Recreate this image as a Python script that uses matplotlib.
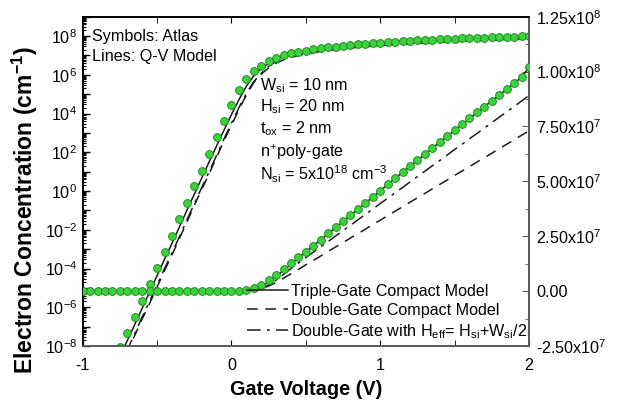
import math

import matplotlib
matplotlib.use("Agg")
import matplotlib.pyplot as plt
from matplotlib.ticker import FixedLocator, LogLocator, NullFormatter, FuncFormatter, MultipleLocator

plt.rcParams["font.family"] = ["Liberation Sans", "DejaVu Sans"]
plt.rcParams["mathtext.fontset"] = "custom"
plt.rcParams["mathtext.rm"] = "Liberation Sans"
plt.rcParams["mathtext.it"] = "Liberation Sans:italic"
plt.rcParams["mathtext.bf"] = "Liberation Sans:bold"

# gate voltage grid (V)
vg = [-1.00, -0.95, -0.90, -0.85, -0.80, -0.75, -0.70, -0.65, -0.60, -0.55,
      -0.50, -0.45, -0.40, -0.35, -0.30, -0.25, -0.20, -0.15, -0.10, -0.05,
      0.00, 0.05, 0.10, 0.15, 0.20, 0.25, 0.30, 0.35, 0.40, 0.45,
      0.50, 0.55, 0.60, 0.65, 0.70, 0.75, 0.80, 0.85, 0.90, 0.95,
      1.00, 1.05, 1.10, 1.15, 1.20, 1.25, 1.30, 1.35, 1.40, 1.45,
      1.50, 1.55, 1.60, 1.65, 1.70, 1.75, 1.80, 1.85, 1.90, 1.95, 2.00]

# Atlas simulation, electron concentration per unit length (cm^-1)
n_atlas = [6.3e-13, 4.0e-12, 2.8e-11, 2.0e-10, 1.3e-9, 9.1e-9, 4.9e-8, 3.2e-7, 2.2e-6, 1.55e-5,
           1.07e-4, 7.1e-4, 4.9e-3, 3.5e-2, 0.25, 1.8, 11.2, 79.0, 590.0, 4.3e3,
           2.7e4, 1.6e5, 6.3e5, 1.5e6, 2.9e6, 5.0e6, 7.4e6, 1.0e7, 1.27e7, 1.54e7,
           1.80e7, 2.07e7, 2.35e7, 2.63e7, 2.90e7, 3.18e7, 3.46e7, 3.74e7, 4.02e7, 4.30e7,
           4.58e7, 4.86e7, 5.14e7, 5.42e7, 5.70e7, 5.97e7, 6.24e7, 6.52e7, 6.79e7, 7.06e7,
           7.33e7, 7.60e7, 7.87e7, 8.14e7, 8.41e7, 8.68e7, 8.94e7, 9.21e7, 9.48e7, 9.75e7, 1.02e8]

# triple-gate compact Q-V model
n_tg = [2.0e-13, 1.4e-12, 1.0e-11, 6.3e-11, 4.5e-10, 3.2e-9, 1.9e-8, 1.3e-7, 8.9e-7, 6.3e-6,
        4.3e-5, 3.0e-4, 2.0e-3, 1.4e-2, 0.10, 0.68, 4.7, 32.0, 215.0, 1.4e3,
        8.9e3, 5.2e4, 2.6e5, 8.9e5, 2.1e6, 4.0e6, 6.6e6, 9.5e6, 1.24e7, 1.52e7,
        1.79e7, 2.06e7, 2.34e7, 2.62e7, 2.89e7, 3.17e7, 3.45e7, 3.73e7, 4.01e7, 4.29e7,
        4.57e7, 4.85e7, 5.13e7, 5.41e7, 5.69e7, 5.96e7, 6.23e7, 6.51e7, 6.78e7, 7.05e7,
        7.32e7, 7.59e7, 7.86e7, 8.13e7, 8.40e7, 8.67e7, 8.93e7, 9.20e7, 9.47e7, 9.74e7, 1.02e8]

# double-gate compact model
n_dg = [5.0e-14, 3.5e-13, 2.5e-12, 1.6e-11, 1.1e-10, 7.9e-10, 5.0e-9, 3.5e-8, 2.5e-7, 1.6e-6,
        1.1e-5, 7.9e-5, 5.0e-4, 3.5e-3, 2.5e-2, 0.18, 1.2, 7.9, 56.0, 400.0,
        2.5e3, 1.6e4, 9.0e4, 4.0e5, 1.1e6, 2.3e6, 4.0e6, 5.9e6, 7.9e6, 9.9e6,
        1.20e7, 1.40e7, 1.60e7, 1.81e7, 2.01e7, 2.21e7, 2.42e7, 2.62e7, 2.82e7, 3.03e7,
        3.23e7, 3.44e7, 3.64e7, 3.84e7, 4.05e7, 4.25e7, 4.45e7, 4.66e7, 4.86e7, 5.06e7,
        5.27e7, 5.47e7, 5.67e7, 5.88e7, 6.08e7, 6.28e7, 6.49e7, 6.69e7, 6.89e7, 7.10e7, 7.30e7]

# double-gate with effective height Heff = Hsi + Wsi/2
n_dgh = [6.3e-14, 4.4e-13, 3.2e-12, 2.0e-11, 1.4e-10, 1.0e-9, 6.3e-9, 4.4e-8, 3.2e-7, 2.0e-6,
         1.4e-5, 1.0e-4, 6.3e-4, 4.4e-3, 3.2e-2, 0.22, 1.5, 10.0, 70.0, 500.0,
         3.2e3, 2.0e4, 1.1e5, 4.5e5, 1.2e6, 2.7e6, 5.0e6, 7.6e6, 1.03e7, 1.28e7,
         1.53e7, 1.77e7, 2.02e7, 2.26e7, 2.51e7, 2.76e7, 3.00e7, 3.25e7, 3.49e7, 3.74e7,
         3.99e7, 4.23e7, 4.48e7, 4.72e7, 4.97e7, 5.22e7, 5.46e7, 5.71e7, 5.95e7, 6.20e7,
         6.45e7, 6.69e7, 6.94e7, 7.18e7, 7.43e7, 7.68e7, 7.92e7, 8.17e7, 8.41e7, 8.66e7, 8.91e7]

labels = ["Triple-Gate Compact Model",
          "Double-Gate Compact Model",
          r"Double-Gate with H$_{\rm eff}$= H$_{\rm si}$+W$_{\rm si}$/2"]

params = [r"W$_{\rm si}$ = 10 nm",
          r"H$_{\rm si}$ = 20 nm",
          r"t$_{\rm ox}$ = 2 nm",
          r"n$^{+}$poly-gate",
          r"N$_{\rm si}$ = 5x10$^{18}$ cm$^{-3}$"]

green = "#3dd13d"
green_edge = "#1f8f1f"
gray = "#5a5a5a"
fs = 11.6

fig = plt.figure(figsize=(6.29, 4.04), dpi=100)
ax = fig.add_axes([0.1315, 0.1436, 0.7095, 0.815])
ax2 = ax.twinx()

line_styles = [
    dict(ls="-", lw=1.1),
    dict(ls=(0, (7, 5)), lw=1.1),
    dict(ls=(0, (9, 4, 2, 4)), lw=1.1),
]

# log-scale view on the left axis, linear view on the right axis
for a in (ax, ax2):
    for n, st in zip([n_tg, n_dg, n_dgh], line_styles):
        a.plot(vg, n, color="#1a1a1a", zorder=2, **st)
    a.plot(vg, n_atlas, "o", ms=5.6, mfc=green, mec=green_edge, mew=0.7, zorder=3)

ax.set_yscale("log")
ax.set_ylim(1e-8, 1e9)
ax.set_xlim(-1, 2)
ax2.set_ylim(-2.5e7, 1.25e8)

ax.xaxis.set_major_locator(FixedLocator([-1, 0, 1, 2]))
ax.xaxis.set_minor_locator(MultipleLocator(0.5))
ax.set_xticklabels(["-1", "0", "1", "2"])

ax.yaxis.set_major_locator(FixedLocator([10.0 ** k for k in range(-8, 10)]))
ax.yaxis.set_minor_locator(LogLocator(base=10, subs=range(2, 10), numticks=40))
ax.yaxis.set_minor_formatter(NullFormatter())


def log_label(val, pos):
    k = int(round(math.log10(val)))
    if k % 2 or k > 8:
        return ""
    return r"10$^{%d}$" % k


ax.yaxis.set_major_formatter(FuncFormatter(log_label))

right_ticks = [-2.5e7, 0.0, 2.5e7, 5.0e7, 7.5e7, 1.0e8, 1.25e8]
right_labels = [r"-2.50x10$^{7}$", "0.00", r"2.50x10$^{7}$", r"5.00x10$^{7}$",
                r"7.50x10$^{7}$", r"1.00x10$^{8}$", r"1.25x10$^{8}$"]
ax2.yaxis.set_major_locator(FixedLocator(right_ticks))
ax2.yaxis.set_minor_locator(MultipleLocator(1.25e7))
ax2.set_yticklabels(right_labels)

ax.tick_params(axis="x", which="both", direction="in", top=True, labelsize=fs, pad=9, length=4)
ax2.tick_params(axis="x", which="both", direction="in", top=True, length=4)
ax.tick_params(axis="y", which="major", direction="in", length=5, width=1.0, labelsize=fs, pad=4)
ax.tick_params(axis="y", which="minor", direction="in", length=2.5, width=0.8)
ax2.tick_params(axis="y", which="major", direction="in", length=5, labelsize=fs, pad=5, color=gray)
ax2.tick_params(axis="y", which="minor", direction="in", length=3, color=gray)

for a in (ax, ax2):
    a.spines["left"].set_linewidth(1.3)
    a.spines["top"].set_linewidth(1.2)
    a.spines["right"].set_color(gray)
    a.spines["right"].set_linewidth(1.2)
    a.spines["bottom"].set_color(gray)
    a.spines["bottom"].set_linewidth(1.2)

ax.set_xlabel("Gate Voltage (V)", fontsize=14.3, fontweight="bold", labelpad=5)
ax.set_ylabel(r"Electron Concentration (cm$^{\mathbf{-1}}$)", fontsize=16.5,
              fontweight="bold")
ax.yaxis.set_label_coords(-0.095, 0.413)

ax.text(0.021, 0.927, "Symbols: Atlas", transform=ax.transAxes, fontsize=fs, va="baseline")
ax.text(0.021, 0.865, "Lines: Q-V Model", transform=ax.transAxes, fontsize=fs, va="baseline")
for txt, yb in zip(params, [0.777, 0.712, 0.647, 0.575, 0.504]):
    ax.text(0.398, yb, txt, transform=ax.transAxes, fontsize=fs, va="baseline")

handles = ax2.get_lines()[:3]
ax2.legend(handles, labels, loc="lower left", bbox_to_anchor=(0.362, 0.006),
           frameon=False, fontsize=fs, handlelength=2.5, handletextpad=0.2,
           labelspacing=0.26, borderpad=0.2, borderaxespad=0)

fig.savefig("out.png", dpi=100)
